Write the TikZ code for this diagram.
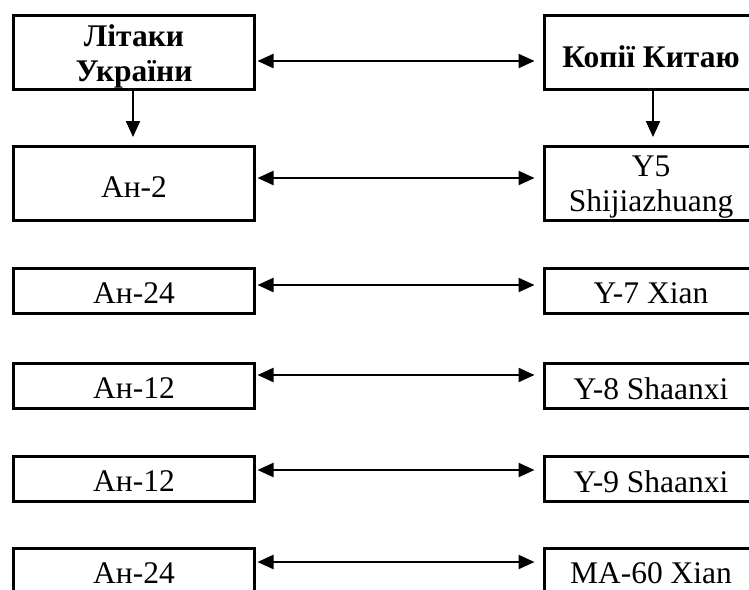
\documentclass[tikz,border=0pt]{standalone}
\usepackage{fontspec}
\setmainfont{Liberation Serif}
\usetikzlibrary{arrows.meta}
\begin{document}
\begin{tikzpicture}[x=1pt,y=-1pt,
  box/.style={draw,line width=3pt,inner sep=0pt},
  txt/.style={inner sep=0pt,align=center,yshift=-4pt,
    font=\fontsize{31.5}{35}\selectfont},
  ftxt/.style={txt,yshift=1.5pt},
  lbox/.style={box,minimum width=241pt},
  rbox/.style={box,minimum width=213pt},
  tall/.style={minimum height=74pt},
  flat/.style={minimum height=45pt},
  tip/.tip={Triangle[length=16pt,width=14pt]},
  link/.style={line width=2.2pt,tip-tip,shorten <=1.5pt,shorten >=8.5pt},
  down/.style={line width=2.2pt,-tip,shorten >=8pt}]
\useasboundingbox (0,0) rectangle (749,589);
\clip (0,0) rectangle (749,589);

% left column: Ukrainian aircraft
\node[lbox,tall,label={[txt]center:\bfseries Літаки\\\bfseries України}] (l1) at (134,52.5) {};
\node[lbox,tall,label={[txt]center:Ан-2}] (l2) at (134,183.5) {};
\node[lbox,flat,label={[ftxt]center:Ан-24}] (l3) at (134,291) {};
\node[lbox,flat,label={[ftxt]center:Ан-12}] (l4) at (134,386) {};
\node[lbox,flat,label={[ftxt]center:Ан-12}] (l5) at (134,479) {};
\node[lbox,flat,label={[ftxt]center:Ан-24}] (l6) at (134,571) {};

% right column: Chinese copies
\node[rbox,tall,label={[txt]center:\bfseries Копії Китаю}] (r1) at (651,52.5) {};
\node[rbox,tall,label={[txt]center:Y5\\Shijiazhuang}] (r2) at (651,183.5) {};
\node[rbox,flat,label={[ftxt]center:Y-7 Xian}] (r3) at (651,291) {};
\node[rbox,flat,label={[ftxt]center:Y-8 Shaanxi}] (r4) at (651,386) {};
\node[rbox,flat,label={[ftxt]center:Y-9 Shaanxi}] (r5) at (651,479) {};
\node[rbox,flat,label={[ftxt]center:MA-60 Xian}] (r6) at (651,571) {};

% heights of the horizontal connectors
\coordinate (h1) at (0,61);
\coordinate (h2) at (0,178);
\coordinate (h3) at (0,285);
\coordinate (h4) at (0,375);
\coordinate (h5) at (0,470);
\coordinate (h6) at (0,562);

\foreach \i in {1,...,6}
  \draw[link] (l\i.east |- h\i) -- (r\i.west |- h\i);

% header arrows
\draw[down] ([xshift=-1pt]l1.south) -- ([xshift=-1pt]l2.north);
\draw[down] ([xshift=2pt]r1.south) -- ([xshift=2pt]r2.north);
\end{tikzpicture}
\end{document}
